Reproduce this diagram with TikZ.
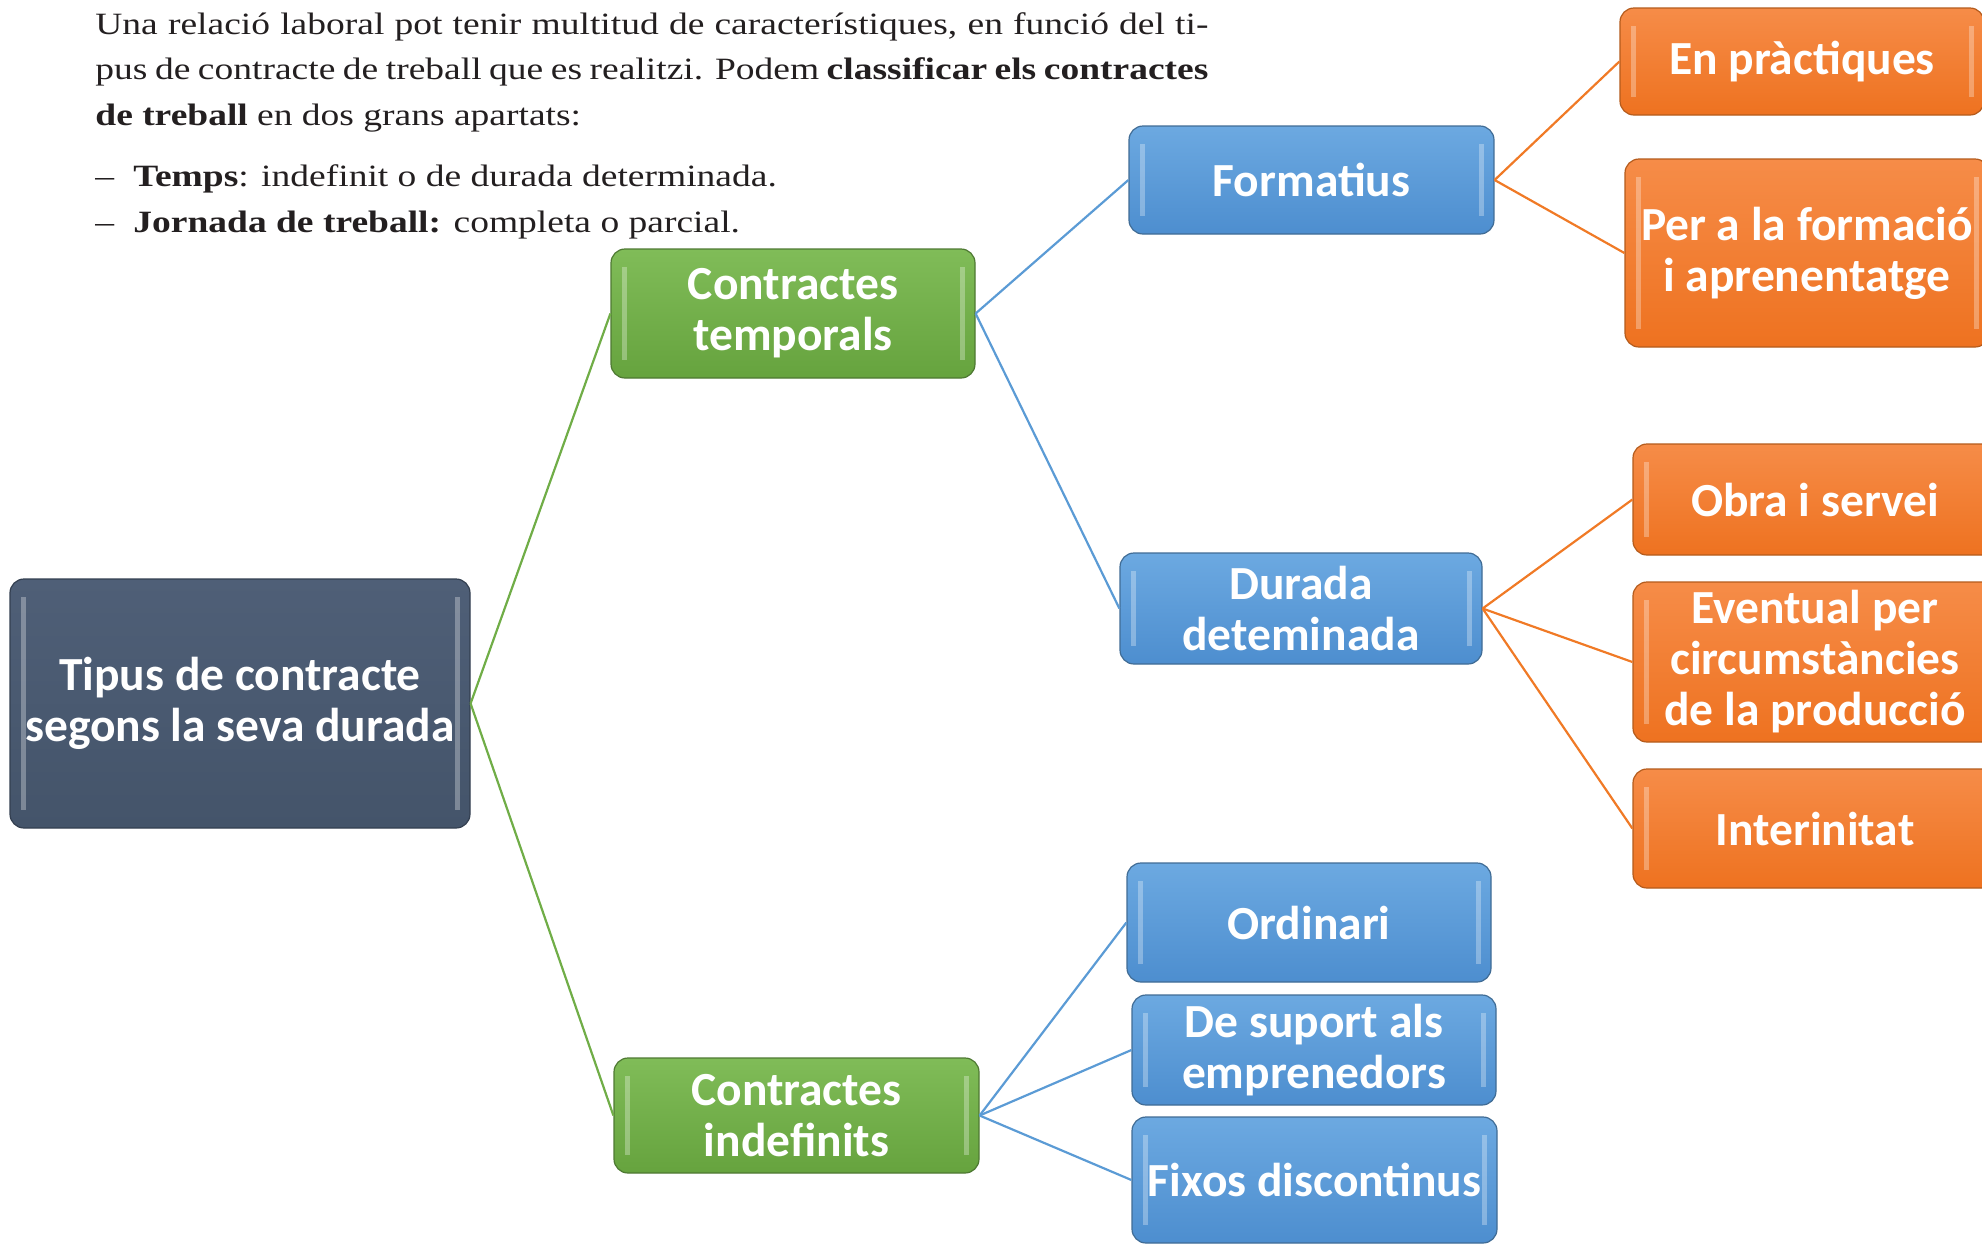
\documentclass[tikz,border=0pt]{standalone}
\usepackage{fontspec}
\setmainfont{Liberation Serif}[FakeStretch=1.21]
\newfontfamily\boxfont{Carlito}

\definecolor{slate}{HTML}{44546A}
\definecolor{slatetop}{HTML}{4F5F77}
\definecolor{lgreen}{HTML}{70AD47}
\definecolor{greentop}{HTML}{80BC58}
\definecolor{greenbot}{HTML}{66A33E}
\definecolor{lblue}{HTML}{5B9BD5}
\definecolor{bluetop}{HTML}{6CA9E1}
\definecolor{bluebot}{HTML}{4D8ECF}
\definecolor{lorange}{HTML}{F07A26}
\definecolor{orangetop}{HTML}{F68C48}
\definecolor{orangebot}{HTML}{EE7220}
\definecolor{textgray}{HTML}{231F20}

\newcommand{\fullline}[1]{\makebox[556.5pt][s]{#1}}

\tikzset{
  boxbase/.style={rounded corners=7pt, line width=0.6pt, text=white, align=center,
    inner sep=0pt, font=\boxfont\bfseries\fontsize{23.75}{25.5}\selectfont,
    path picture={
      \draw[white, opacity=0.3, line width=2.5pt]
        ([shift={(6.5pt,-9pt)}]path picture bounding box.north west)
          -- ([shift={(6.5pt,9pt)}]path picture bounding box.south west)
        ([shift={(-6.5pt,-9pt)}]path picture bounding box.north east)
          -- ([shift={(-6.5pt,9pt)}]path picture bounding box.south east);
    }},
  rootbox/.style={boxbase, draw=slate!75!black, top color=slatetop, bottom color=slate},
  greenbox/.style={boxbase, draw=lgreen!70!black, top color=greentop, bottom color=greenbot},
  bluebox/.style={boxbase, draw=lblue!70!black, top color=bluetop, bottom color=bluebot},
  orangebox/.style={boxbase, draw=lorange!75!black, top color=orangetop, bottom color=orangebot},
  greenline/.style={draw=lgreen, line width=1.1pt},
  blueline/.style={draw=lblue, line width=1.1pt},
  orangeline/.style={draw=lorange, line width=1.1pt},
  introtext/.style={inner sep=0pt, align=left, text=textgray,
    font=\fontsize{15.5}{22.75}\selectfont},
}

\begin{document}
\begin{tikzpicture}[x=0.5pt, y=-0.5pt]
  \useasboundingbox (0,0) rectangle (1982,1244);

  % text at the top (base = last line)
  \node[introtext, anchor=base west] (intro) at (95,125) {%
    \fullline{Una relació laboral pot tenir multitud de característiques, en funció del ti-}\\
    \fullline{pus de contracte de treball que es realitzi. Podem \textbf{classificar els contractes}}\\
    \textbf{de treball} en dos grans apartats:};
  \node[introtext, anchor=base west] (criteris) at (95,232) {%
    \makebox[19pt][l]{--}\textbf{Temps}: indefinit o de durada determinada.\\
    \makebox[19pt][l]{--}\textbf{Jornada de treball:} completa o parcial.};

  % root and first level
  \node[rootbox, minimum width=230pt, minimum height=124.5pt] (tipus) at (240,703.5)
    {Tipus de contracte\\segons la seva durada};
  \node[greenbox, minimum width=182pt, minimum height=64.5pt] (temp) at (793,313.5)
    {Contractes\\temporals};
  \node[greenbox, minimum width=182.5pt, minimum height=57.5pt] (indef) at (796.5,1115.5)
    {Contractes\\indefinits};

  % second level
  \node[bluebox, minimum width=182.5pt, minimum height=54pt] (formatius) at (1311.5,180) {Formatius};
  \node[bluebox, minimum width=181pt, minimum height=55.5pt] (durada) at (1301,608.5) {Durada\\deteminada};
  \node[bluebox, minimum width=182pt, minimum height=59.5pt] (ordinari) at (1309,922.5) {Ordinari};
  \node[bluebox, minimum width=182pt, minimum height=55pt] (suport) at (1314,1050) {De suport als\\emprenedors};
  \node[bluebox, minimum width=182.5pt, minimum height=63pt] (fixos) at (1314.5,1180) {Fixos discontinus};

  % third level
  \node[orangebox, minimum width=182pt, minimum height=53.5pt] (practiques) at (1802,61.5) {En pràctiques};
  \node[orangebox, minimum width=182pt, minimum height=94pt] (formacio) at (1807,253) {Per a la formació\\i aprenentatge};
  \node[orangebox, minimum width=182pt, minimum height=55.5pt] (obra) at (1815,499.5) {Obra i servei};
  \node[orangebox, minimum width=182pt, minimum height=80pt] (eventual) at (1815,662) {Eventual per\\circumstàncies\\de la producció};
  \node[orangebox, minimum width=182pt, minimum height=59.5pt] (interinitat) at (1815,828.5) {Interinitat};

  % connectors
  \draw[greenline] (tipus.east) -- (temp.west);
  \draw[greenline] (tipus.east) -- (indef.west);
  \draw[blueline] (temp.east) -- (formatius.west);
  \draw[blueline] (temp.east) -- (durada.west);
  \draw[blueline] (indef.east) -- (ordinari.west);
  \draw[blueline] (indef.east) -- (suport.west);
  \draw[blueline] (indef.east) -- (fixos.west);
  \draw[orangeline] (formatius.east) -- (practiques.west);
  \draw[orangeline] (formatius.east) -- (formacio.west);
  \draw[orangeline] (durada.east) -- (obra.west);
  \draw[orangeline] (durada.east) -- (eventual.west);
  \draw[orangeline] (durada.east) -- (interinitat.west);
\end{tikzpicture}
\end{document}
